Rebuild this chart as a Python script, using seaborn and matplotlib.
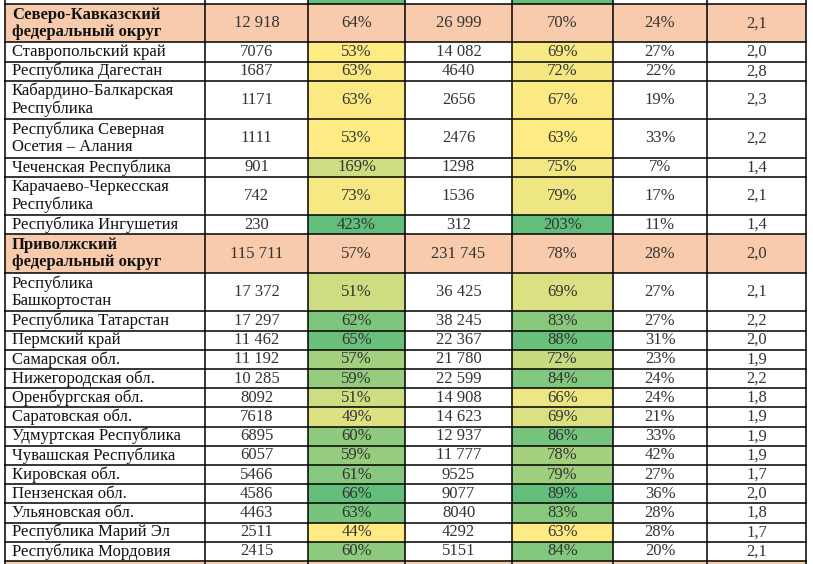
import numpy as np
import pandas as pd
import matplotlib
matplotlib.use("Agg")
import matplotlib.pyplot as plt
import seaborn as sns
from matplotlib.colors import ListedColormap, LinearSegmentedColormap

# table rows (district rows are flagged)
names = [
    "Северо-Кавказский\nфедеральный округ",
    "Ставропольский край",
    "Республика Дагестан",
    "Кабардино-Балкарская\nРеспублика",
    "Республика Северная\nОсетия – Алания",
    "Чеченская Республика",
    "Карачаево-Черкесская\nРеспублика",
    "Республика Ингушетия",
    "Приволжский\nфедеральный округ",
    "Республика\nБашкортостан",
    "Республика Татарстан",
    "Пермский край",
    "Самарская обл.",
    "Нижегородская обл.",
    "Оренбургская обл.",
    "Саратовская обл.",
    "Удмуртская Республика",
    "Чувашская Республика",
    "Кировская обл.",
    "Пензенская обл.",
    "Ульяновская обл.",
    "Республика Марий Эл",
    "Республика Мордовия",
]
is_district = [1, 0, 0, 0, 0, 0, 0, 0, 1, 0, 0, 0, 0, 0, 0, 0, 0, 0, 0, 0, 0, 0, 0]
count_a = [12918, 7076, 1687, 1171, 1111, 901, 742, 230,
           115711, 17372, 17297, 11462, 11192, 10285, 8092, 7618, 6895, 6057, 5466, 4586, 4463, 2511, 2415]
share_a = [64, 53, 63, 63, 53, 169, 73, 423,
           57, 51, 62, 65, 57, 59, 51, 49, 60, 59, 61, 66, 63, 44, 60]
count_b = [26999, 14082, 4640, 2656, 2476, 1298, 1536, 312,
           231745, 36425, 38245, 22367, 21780, 22599, 14908, 14623, 12937, 11777, 9525, 9077, 8040, 4292, 5151]
share_b = [70, 69, 72, 67, 63, 75, 79, 203,
           78, 69, 83, 88, 72, 84, 66, 69, 86, 78, 79, 89, 83, 63, 84]
share_c = [24, 27, 22, 19, 33, 7, 17, 11,
           28, 27, 27, 31, 23, 24, 24, 21, 33, 42, 27, 36, 28, 28, 20]
ratio = [2.1, 2.0, 2.8, 2.3, 2.2, 1.4, 2.1, 1.4,
         2.0, 2.1, 2.2, 2.0, 1.9, 2.2, 1.8, 1.9, 1.9, 1.9, 1.7, 2.0, 1.8, 1.7, 2.1]

SALMON = "#F8CBAD"
YELLOW = "#FFEB84"
GREEN = "#63BE7B"
col_edges = [5, 205, 308, 405, 512, 613, 707, 806]
W, H = 813, 564


def fmt_int(v):
    return f"{v:,}".replace(",", " ") if v >= 10000 else str(v)


df = pd.DataFrame({
    "name": names, "district": is_district,
    "count_a": count_a, "share_a": share_a,
    "count_b": count_b, "share_b": share_b,
    "share_c": share_c, "ratio": ratio,
})
df["group"] = df["district"].cumsum()
df["units"] = df["name"].str.count("\n") + 1

# colour scale position inside each district group (regions only)
for col in ["share_a", "share_b"]:
    reg = df[df["district"] == 0]
    lo = reg.groupby("group")[col].transform("min")
    hi = reg.groupby("group")[col].transform("max")
    df.loc[reg.index, col + "_t"] = (reg[col] - lo) / (hi - lo)

# colour codes: 0 white, 1 salmon, 2..257 yellow->green
grad = LinearSegmentedColormap.from_list("yg", [YELLOW, GREEN])(np.linspace(0, 1, 256))
cmap = ListedColormap(["white", SALMON] + [tuple(c) for c in grad])


def scale_code(t):
    return 2 + int(round(t * 255))


codes = [[0, 0, scale_code(1), 0, scale_code(1), 0, 0]]  # previous row, cut at the top
texts = []
y = 1
for _, r in df.iterrows():
    if r["district"]:
        row = [1] * 7
    else:
        row = [0, 0, scale_code(r["share_a_t"]), 0, scale_code(r["share_b_t"]), 0, 0]
    codes += [row] * r["units"]
    texts.append((y + r["units"] / 2, r))
    y += r["units"]
codes.append([1] * 7)  # next district row, cut at the bottom
codes = np.array(codes)
n_rows = len(codes)
bounds = [1] + list(1 + np.cumsum(df["units"]))

unit_px = (561 - 4) / (n_rows - 2)
ylim_top = 1 - 4 / unit_px
ylim_bot = n_rows - 1 + 3 / unit_px

plt.rcParams["font.family"] = ["Liberation Serif", "DejaVu Serif"]
fig = plt.figure(figsize=(W / 100, H / 100), dpi=100)

for j in range(7):
    x0, x1 = col_edges[j], col_edges[j + 1]
    ax = fig.add_axes([x0 / W, 0, (x1 - x0) / W, 1])
    sns.heatmap(pd.DataFrame(codes[:, j:j + 1]), ax=ax, cmap=cmap, vmin=-0.5, vmax=257.5,
                cbar=False, xticklabels=False, yticklabels=False)
    ax.set_ylim(ylim_bot, ylim_top)
    for b in bounds:
        ax.axhline(b, color="black", lw=1.1, clip_on=False, zorder=5)
    # left border drawn by each later column so it sits on top
    ax.axvline(0, color="black", lw=1.1, clip_on=False, zorder=5)
    if j == 6:
        ax.axvline(1, color="black", lw=1.1, clip_on=False, zorder=5)

    for yc, r in texts:
        bold = bool(r["district"])
        if j == 0:
            ax.text(7 / (x1 - x0), yc, r["name"], ha="left", va="center", fontsize=12,
                    fontweight="bold" if bold else "normal", color="#111111", linespacing=1.1)
            continue
        if j == 1:
            s = fmt_int(r["count_a"])
        elif j == 2:
            s = f"{r['share_a']}%"
        elif j == 3:
            s = fmt_int(r["count_b"])
        elif j == 4:
            s = f"{r['share_b']}%"
        elif j == 5:
            s = f"{r['share_c']}%"
        else:
            s = f"{r['ratio']:.1f}".replace(".", ",")
        ax.text(0.5, yc, s, ha="center", va="center", fontsize=12, color="#333333")

fig.savefig("out.png", dpi=100)
